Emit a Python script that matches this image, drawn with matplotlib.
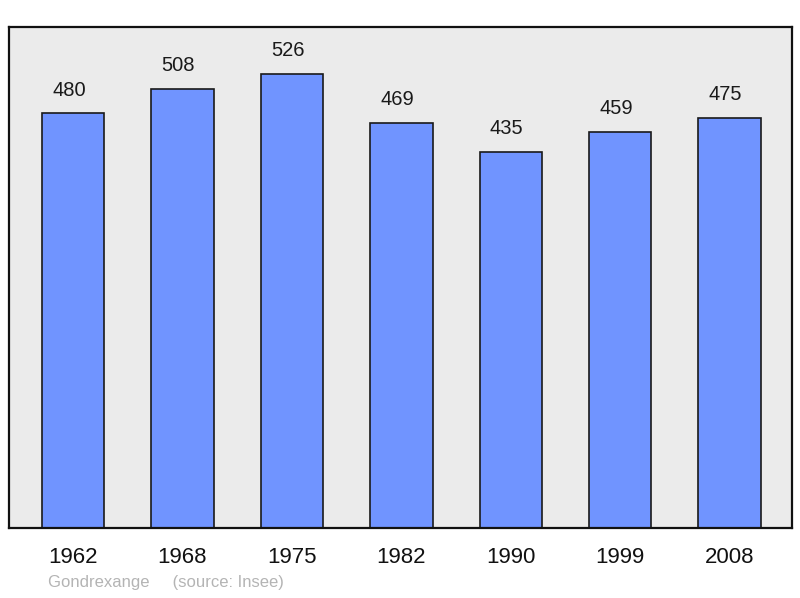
import matplotlib.pyplot as plt

years = ["1962", "1968", "1975", "1982", "1990", "1999", "2008"]
population = [480, 508, 526, 469, 435, 459, 475]

fig = plt.figure(figsize=(8, 5.98), dpi=100)
ax = fig.add_axes([0.01125, 0.117, 0.97875, 0.8378])
ax.set_facecolor("#ebebeb")

x = range(len(years))
bars = ax.bar(x, population, width=0.57, color="#7094ff",
              edgecolor="#1a1a1a", linewidth=1.2, zorder=2)

# labels sit a little left of the bar centre in the original
for rect, val in zip(bars, population):
    ax.annotate(str(val), (rect.get_x() + rect.get_width() / 2, rect.get_height()),
                xytext=(-3, 10), textcoords="offset points",
                ha="center", va="bottom", fontsize=14.5, color="#1a1a1a",
                family="Liberation Sans")

ax.set_xlim(-0.585, len(years) - 1 + 0.57)
ax.set_ylim(0, 580)
ax.set_yticks([])
ax.set_xticks(list(x))
ax.set_xticklabels(years, fontsize=16, family="Liberation Sans", color="#111111")
ax.tick_params(axis="x", length=0, pad=14)

for s in ax.spines.values():
    s.set_linewidth(1.6)
    s.set_color("#111111")

fig.text(0.06, 0.013, "Gondrexange     (source: Insee)", fontsize=12,
         color="#b4b4b4", family="Liberation Sans", ha="left", va="bottom")

fig.savefig("out.png", dpi=100, facecolor="white")
